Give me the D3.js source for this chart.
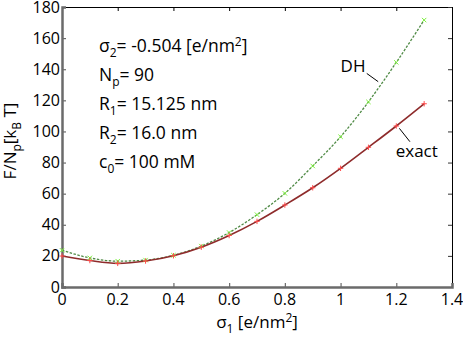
<!DOCTYPE html>
<html>
<head>
<meta charset="utf-8">
<script src="https://cdn.jsdelivr.net/npm/d3@7"></script>
<style>
    body { margin: 0; background: #fff; }
    svg { font-family: "Open Sans", sans-serif; display: block; }
</style>
</head>
<body>
<div id="chart"></div>
<script>
// sigma_1 values (x) and free energy per particle for both models
var sigma1 = [0, 0.1, 0.2, 0.3, 0.4, 0.5, 0.6, 0.7, 0.8, 0.9, 1.0, 1.1, 1.2, 1.3];
var exact  = [19.9, 17.0, 15.2, 16.7, 20.1, 25.6, 33.1, 42.2, 52.7, 63.8, 76.3, 89.8, 103.5, 117.8];
var dh     = [23.6, 18.7, 16.6, 17.3, 20.4, 26.3, 35.0, 46.5, 60.2, 77.8, 96.6, 119.0, 144.4, 171.6];

var x_ticks = [0, 0.2, 0.4, 0.6, 0.8, 1, 1.2, 1.4];
var y_ticks = [0, 20, 40, 60, 80, 100, 120, 140, 160, 180];

// parameter box, each line split into [text, shift] parts
var params = [
    [["\u03C3", ""], ["2", "sub"], ["= -0.504 [e/nm", ""], ["2", "sup"], ["]", ""]],
    [["N", ""], ["p", "sub"], ["= 90", ""]],
    [["R", ""], ["1", "sub"], ["= 15.125 nm", ""]],
    [["R", ""], ["2", "sub"], ["= 16.0 nm", ""]],
    [["c", ""], ["0", "sub"], ["= 100 mM", ""]]
];

// curve labels with leader lines (data units)
var labels = [
    {text: "DH",    x: 1.0, y: 138.5, line: [[1.094, 137.3], [1.135, 132.0]]},
    {text: "exact", x: 1.198, y: 83.5,  line: [[1.211, 102.0], [1.249, 93.4]]}
];

var width = 463, height = 342;
var margin = {top: 7, right: 11, bottom: 55, left: 62};
var inner_width = width - margin.left - margin.right;
var inner_height = height - margin.top - margin.bottom;

var svg = d3.select("#chart").append("svg")
    .attr("width", width)
    .attr("height", height);

var g = svg.append("g")
    .attr("transform", "translate(" + margin.left + "," + margin.top + ")");

var x_scale = d3.scaleLinear().domain([0, 1.4]).range([0, inner_width]);
var y_scale = d3.scaleLinear().domain([0, 180]).range([inner_height, 0]);

//Mirror axes (top / right) - thin black, ticks inward
g.append("g")
    .call(d3.axisBottom(x_scale).tickValues(x_ticks).tickSize(4).tickFormat(""))
    .call(function(a) {
        a.select(".domain").attr("stroke", "#000").attr("stroke-width", 1);
        a.selectAll(".tick line").attr("stroke", "#000");
    });

g.append("g")
    .attr("transform", "translate(" + inner_width + ",0)")
    .call(d3.axisLeft(y_scale).tickValues(y_ticks).tickSize(4).tickFormat(""))
    .call(function(a) {
        a.select(".domain").attr("stroke", "#000").attr("stroke-width", 1);
        a.selectAll(".tick line").attr("stroke", "#333");
    });

//Main axes - thick grey
var fmt = function(d) { return String(+d.toFixed(1)); };

var xa = g.append("g")
    .attr("transform", "translate(0," + inner_height + ")")
    .call(d3.axisTop(x_scale).tickValues(x_ticks).tickSize(4).tickFormat(""));
xa.select(".domain").attr("stroke", "#6b6b6b").attr("stroke-width", 2.5);
xa.selectAll(".tick line").attr("stroke", "#6b6b6b").attr("stroke-width", 1.2);

g.selectAll(".xlab").data(x_ticks).enter().append("text")
    .attr("class", "xlab")
    .attr("x", function(d) { return x_scale(d); })
    .attr("y", inner_height + 18)
    .attr("text-anchor", "middle")
    .style("font-size", "16px")
    .text(fmt);

var ya = g.append("g")
    .call(d3.axisRight(y_scale).tickValues(y_ticks).tickSize(4).tickFormat(""));
ya.select(".domain").attr("stroke", "#6b6b6b").attr("stroke-width", 2.5);
ya.selectAll(".tick line").attr("stroke", "#6b6b6b").attr("stroke-width", 1.2);

g.selectAll(".ylab").data(y_ticks).enter().append("text")
    .attr("class", "ylab")
    .attr("x", -2)
    .attr("y", function(d) { return y_scale(d) + 5.5; })
    .attr("text-anchor", "end")
    .style("font-size", "16px")
    .text(function(d) { return d; });

//Helper for text with sub/superscripts
function rich(sel, parts, small) {
    var shift = 0;
    parts.forEach(function(p) {
        var target = p[1] == "sub" ? 5 : (p[1] == "sup" ? -6 : 0);
        var t = sel.append("tspan").attr("dy", target - shift).text(p[0]);
        if (p[1]) t.style("font-size", small);
        shift = target;
    });
}

//Axis titles
var xt = svg.append("text")
    .attr("x", margin.left + x_scale(0.7))
    .attr("y", 328)
    .attr("text-anchor", "middle")
    .style("font-size", "17px");
rich(xt, [["\u03C3", ""], ["1", "sub"], [" [e/nm", ""], ["2", "sup"], ["]", ""]], "12px");

var yt = svg.append("text")
    .attr("transform", "translate(16," + 141 + ") rotate(-90)")
    .attr("text-anchor", "middle")
    .style("font-size", "17px");
rich(yt, [["F/N", ""], ["p", "sub"], ["[k", ""], ["B", "sub"], [" T]", ""]], "12px");

//Curves
var line = d3.line()
    .x(function(d) { return x_scale(d[0]); })
    .y(function(d) { return y_scale(d[1]); })
    .curve(d3.curveMonotoneX);

var dh_pts = sigma1.map(function(s, i) { return [s, dh[i]]; });
var ex_pts = sigma1.map(function(s, i) { return [s, exact[i]]; });

g.append("path")
    .attr("d", line(dh_pts))
    .attr("fill", "none")
    .attr("stroke", "#4f8a45")
    .attr("stroke-width", 1.3)
    .attr("stroke-dasharray", "2.5,1.5");

g.append("path")
    .attr("d", line(ex_pts))
    .attr("fill", "none")
    .attr("stroke", "#8e2b2b")
    .attr("stroke-width", 1.6);

//Markers: x for DH, + for exact
var m = 2.2;
g.selectAll(".mdh").data(dh_pts).enter().append("path")
    .attr("class", "mdh")
    .attr("transform", function(d) { return "translate(" + x_scale(d[0]) + "," + y_scale(d[1]) + ")"; })
    .attr("d", "M" + (-m) + "," + (-m) + "L" + m + "," + m + "M" + (-m) + "," + m + "L" + m + "," + (-m))
    .attr("stroke", "#7cf03c")
    .attr("stroke-width", 1);

g.selectAll(".mex").data(ex_pts).enter().append("path")
    .attr("class", "mex")
    .attr("transform", function(d) { return "translate(" + x_scale(d[0]) + "," + y_scale(d[1]) + ")"; })
    .attr("d", "M" + (-m - 0.5) + ",0H" + (m + 0.5) + "M0," + (-m - 0.5) + "V" + (m + 0.5))
    .attr("stroke", "#ff4a4a")
    .attr("stroke-width", 1);

//Parameter block
params.forEach(function(parts, i) {
    var t = g.append("text")
        .attr("x", 37)
        .attr("y", 45 + i * 29)
        .style("font-size", "17.5px");
    rich(t, parts, "12px");
});

//Curve labels
labels.forEach(function(l) {
    g.append("text")
        .attr("x", x_scale(l.x))
        .attr("y", y_scale(l.y))
        .style("font-size", "17px")
        .text(l.text);
    g.append("line")
        .attr("x1", x_scale(l.line[0][0])).attr("y1", y_scale(l.line[0][1]))
        .attr("x2", x_scale(l.line[1][0])).attr("y2", y_scale(l.line[1][1]))
        .attr("stroke", "#000")
        .attr("stroke-width", 1);
});
</script>
</body>
</html>
